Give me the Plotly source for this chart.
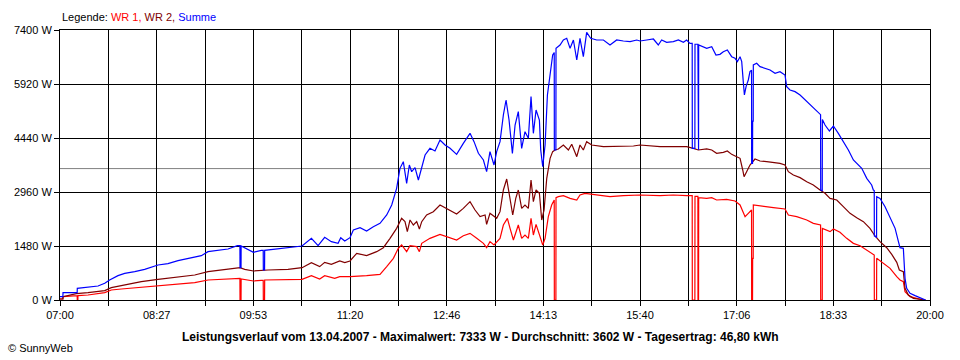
import plotly.graph_objects as go
import pandas as pd

# ---------------- data (minutes after 07:00, watts) ----------------
DAY_START = "2007-04-13 07:00"
DAY_MINUTES = 780  # 07:00 .. 20:00

x_tick_labels = ["07:00", "08:27", "09:53", "11:20", "12:46",
                 "14:13", "15:40", "17:06", "18:33", "20:00"]
y_tick_values = [0, 1480, 2960, 4440, 5920, 7400]
average_w = 3602

title_text = ("Leistungsverlauf vom 13.04.2007 - Maximalwert: 7333 W - "
              "Durchschnitt: 3602 W - Tagesertrag: 46,80 kWh")

wr1 = [(0, 27), (2.6, 27), (2.7, 91), (14.6, 119), (15.4, 119), (15.5, 0), (16.0, 0), (16.1, 119),
       (25.1, 137), (40.1, 201), (46.0, 274), (55.0, 301), (72.9, 347), (87.9, 393),
       (102.8, 429), (120.8, 475), (132.7, 548), (150.6, 566), (159.0, 594), (161.3, 594),
       (161.4, 0), (162.3, 0), (162.4, 576), (173.4, 521), (180.5, 539), (182.2, 539),
       (182.3, 0), (183.4, 0), (183.5, 548), (204.4, 548), (217.0, 566), (225.4, 667),
       (232.8, 576), (237.3, 667), (246.3, 594), (250.8, 640), (260.0, 640), (274.9, 667),
       (286.9, 703), (292.9, 914), (298.9, 1142), (303.3, 1416), (306.3, 1507), (310.8, 1325),
       (313.8, 1489), (319.8, 1462), (322.2, 1325), (324.3, 1553), (331.7, 1690), (340.7, 1800),
       (346.7, 1736), (355.6, 1644), (361.6, 1763), (367.6, 1827), (373.6, 1690), (379.6, 1553),
       (382.5, 1434), (385.5, 1599), (389.1, 1507), (394.5, 1690), (397.5, 2056), (401.1, 2238),
       (403.5, 1964), (406.5, 1644), (410.9, 2056), (413.9, 1690), (416.9, 1782), (419.9, 1690),
       (422.3, 2238), (424.4, 1782), (426.8, 2074), (429.8, 1782), (432.8, 1507), (434.9, 1690),
       (437.8, 2284), (440.8, 2604), (442.6, 2741), (443.1, 2741), (443.2, 0), (444.6, 0),
       (444.7, 2805), (446.8, 2832), (451.3, 2860), (457.3, 2786), (463.3, 2741), (466.2, 2878),
       (470.7, 2924), (481.2, 2878), (493.1, 2832), (505.1, 2860), (520.0, 2878), (537.9, 2860),
       (549.9, 2878), (561.8, 2860), (566.8, 2860), (566.9, 0), (569.2, 0), (569.3, 2840),
       (571.9, 2840), (572.0, 0), (572.5, 0), (572.6, 2805), (579.8, 2786), (584.3, 2805),
       (588.7, 2741), (597.7, 2759), (605.2, 2713), (609.7, 2604), (612.7, 2421), (614.2, 2284),
       (617.1, 2375), (619.2, 2467), (620.0, 2467), (620.1, 0), (620.9, 0), (621.0, 1142),
       (621.5, 1142), (621.6, 2604), (630.6, 2558), (639.6, 2531), (650.0, 2494), (653.0, 2330),
       (660.5, 2284), (669.5, 2193), (675.4, 2101), (681.4, 2056), (681.9, 2056), (682.0, 0),
       (683.4, 0), (683.5, 1964), (690.4, 1873), (693.4, 1946), (699.3, 1855), (705.3, 1690),
       (711.3, 1553), (717.3, 1489), (723.3, 1370), (729.2, 1233), (730.0, 1233), (730.1, 0),
       (732.1, 0), (732.2, 1142), (738.2, 1005), (744.2, 868), (750.2, 640), (753.1, 548),
       (756.1, 502), (757.6, 228), (762.1, 91), (768.0, 40), (774.1, 0), (776.0, 0)]

wr2 = [(0, 27), (2.6, 27), (2.7, 91), (14.6, 174), (25.1, 201), (40.1, 256), (46.0, 338),
       (55.0, 393), (72.9, 502), (87.9, 566), (102.8, 612), (120.8, 685), (132.7, 777),
       (150.6, 840), (161.4, 886), (165.6, 840), (173.4, 795), (186.5, 822), (204.4, 840),
       (217.0, 886), (225.4, 1023), (232.8, 914), (237.3, 1032), (243.3, 978), (250.8, 1069),
       (255.3, 1023), (260.0, 1069), (266.0, 1279), (274.9, 1215), (283.9, 1325), (289.9, 1434),
       (295.9, 1690), (301.8, 1964), (306.3, 2238), (309.3, 2147), (311.4, 1873), (313.8, 2193),
       (316.8, 2056), (319.8, 2147), (322.2, 1946), (324.3, 2147), (328.7, 2330), (334.7, 2421),
       (340.7, 2604), (346.7, 2512), (352.7, 2421), (355.6, 2357), (361.6, 2512), (367.6, 2695),
       (372.1, 2467), (376.6, 2284), (381.1, 2330), (382.5, 2074), (385.5, 2375), (389.1, 2284),
       (391.5, 2238), (394.5, 2421), (397.5, 3015), (400.5, 3316), (402.9, 2878), (405.9, 2330),
       (408.6, 2786), (410.9, 3015), (413.9, 2512), (416.9, 2604), (419.9, 2512), (422.3, 3289),
       (424.4, 2695), (426.8, 3015), (429.8, 2924), (431.9, 2193), (434.0, 2467), (436.4, 3335),
       (439.4, 3883), (441.7, 4066), (443.8, 4111), (446.8, 4139), (451.3, 4248), (455.8, 4111),
       (458.8, 4267), (463.3, 3928), (466.2, 4248), (469.2, 4111), (472.2, 4340), (476.7, 4248),
       (487.2, 4203), (499.1, 4203), (514.1, 4221), (520.0, 4248), (529.0, 4230), (537.9, 4203),
       (549.9, 4203), (561.8, 4203), (567.8, 4157), (572.3, 4111), (579.8, 4139), (584.3, 4111),
       (588.7, 4020), (594.7, 4047), (598.3, 4084), (602.2, 3992), (606.7, 3928), (609.7, 3883),
       (612.1, 3563), (613.3, 3380), (615.6, 3517), (618.6, 3700), (623.1, 3864), (627.6, 3810),
       (633.6, 3791), (639.6, 3764), (645.5, 3746), (650.0, 3700), (653.0, 3517), (657.5, 3426),
       (663.5, 3353), (669.5, 3243), (675.4, 3152), (681.4, 3015), (685.9, 2924), (690.4, 2786),
       (696.4, 2741), (702.3, 2558), (708.3, 2375), (714.3, 2257), (720.3, 2147), (726.2, 1964),
       (730.7, 1754), (735.2, 1599), (741.2, 1434), (745.7, 1252), (750.2, 1032), (752.5, 822),
       (756.1, 777), (757.6, 320), (760.6, 137), (765.1, 46), (774.1, 0), (776.0, 0)]

summe = [(0, 91), (2.6, 91), (2.7, 201), (15.4, 201), (15.5, 320), (25.1, 347), (34.1, 384),
         (40.1, 457), (44.5, 548), (52.0, 667), (58.0, 731), (67.0, 777), (75.9, 840),
         (87.9, 959), (96.8, 996), (105.8, 1078), (114.8, 1142), (126.7, 1215), (132.7, 1325),
         (144.7, 1361), (150.6, 1398), (159.0, 1489), (161.3, 1489), (161.4, 886), (162.3, 886),
         (162.4, 1480), (167.1, 1398), (173.4, 1306), (180.5, 1361), (182.2, 1361), (182.3, 822),
         (183.4, 822), (183.5, 1361), (204.4, 1434), (217.0, 1480), (225.4, 1690), (231.4, 1489),
         (237.3, 1718), (243.3, 1599), (249.3, 1553), (251.7, 1708), (255.3, 1617), (260.0, 1708),
         (263.0, 1919), (269.0, 1983), (274.9, 1891), (280.9, 2010), (286.9, 2101), (292.9, 2330),
         (297.4, 2604), (301.8, 3061), (304.8, 3609), (307.8, 3791), (310.8, 3198), (313.2, 3700),
         (315.3, 3517), (318.3, 3627), (321.3, 3289), (324.3, 3609), (327.3, 3974), (331.7, 4157),
         (336.2, 4084), (340.7, 4385), (345.2, 4248), (349.7, 4157), (355.6, 3992), (361.6, 4294),
         (367.6, 4568), (371.2, 4340), (375.1, 4020), (379.6, 3837), (382.5, 3517), (385.5, 4066),
         (389.1, 3700), (391.5, 4066), (394.5, 4340), (397.5, 5070), (399.9, 5482), (402.6, 4933),
         (405.6, 4020), (408.0, 4796), (410.9, 5162), (413.9, 4157), (416.9, 4614), (419.9, 4431),
         (422.3, 5573), (424.4, 4568), (426.8, 5208), (429.8, 4933), (431.0, 4111), (432.8, 3654),
         (434.9, 4248), (437.0, 5619), (439.4, 6258), (441.7, 6715), (443.1, 6780), (443.2, 4111),
         (444.6, 4111), (444.7, 6898), (448.3, 6989), (451.3, 7126), (454.3, 7172), (457.3, 6898),
         (460.3, 7126), (463.3, 6578), (466.2, 7172), (469.2, 6669), (472.2, 7333), (475.8, 7172),
         (481.2, 7126), (487.2, 7126), (493.1, 6989), (499.1, 7126), (505.1, 7099), (511.1, 7080),
         (517.1, 7126), (520.0, 7099), (526.0, 7126), (532.0, 7153), (536.4, 6989), (539.4, 7126),
         (543.9, 7062), (549.9, 7080), (554.4, 7126), (558.9, 7062), (561.8, 7126), (564.8, 7035),
         (566.8, 7035), (566.9, 4157), (569.2, 4157), (569.3, 7010), (571.9, 7010), (572.0, 4111),
         (572.5, 4111), (572.6, 6990), (576.8, 6943), (579.8, 6898), (584.3, 6943), (588.1, 6715),
         (591.7, 6733), (594.7, 6806), (598.3, 6852), (602.2, 6669), (605.2, 6624), (607.3, 6532),
         (609.7, 6669), (611.2, 6532), (612.7, 5938), (613.6, 5619), (615.1, 5847), (617.1, 6030),
         (618.6, 6258), (620.0, 6300), (620.1, 3746), (620.9, 3746), (621.0, 4900), (621.5, 4900),
         (621.6, 6441), (624.6, 6487), (627.6, 6395), (636.6, 6304), (641.1, 6212), (645.5, 6258),
         (650.0, 6167), (651.5, 5847), (654.5, 5756), (659.0, 5710), (663.5, 5619), (668.0, 5482),
         (672.4, 5345), (676.9, 5208), (681.4, 5089), (681.9, 5080), (682.0, 3015), (683.4, 3000),
         (683.5, 4950), (685.9, 4796), (689.8, 4632), (693.4, 4769), (697.8, 4568), (702.3, 4340),
         (706.8, 4111), (711.3, 3837), (718.8, 3609), (723.3, 3334), (727.7, 3152), (729.2, 3015),
         (730.0, 3000), (730.1, 1754), (732.1, 1720), (732.2, 2832), (735.2, 2786), (739.7, 2558),
         (744.2, 2238), (748.7, 1964), (751.7, 1599), (753.1, 1434), (756.1, 1416), (757.6, 594),
         (759.1, 320), (762.1, 183), (766.6, 119), (774.1, 27), (776.0, 0)]

# ---------------- figure ----------------
start = pd.Timestamp(DAY_START)


def to_xy(pairs):
    mins, watts = zip(*pairs)
    return [start + pd.Timedelta(minutes=m) for m in mins], list(watts)


FONT = "Liberation Sans, Arial, sans-serif"
fig = go.Figure()
for name, pairs, color in [("WR 1", wr1, "#FF0000"), ("WR 2", wr2, "#800000"),
                           ("Summe", summe, "#0000FF")]:
    xs, ys = to_xy(pairs)
    fig.add_trace(go.Scatter(x=xs, y=ys, name=name, mode="lines",
                             line=dict(color=color, width=1.2, shape="linear")))

n_div = 2 * (len(x_tick_labels) - 1)
step = DAY_MINUTES / n_div
tickvals = [start + pd.Timedelta(minutes=k * step) for k in range(n_div + 1)]
ticktext = [x_tick_labels[k // 2] if k % 2 == 0 else "" for k in range(n_div + 1)]

fig.update_xaxes(type="date", range=[tickvals[0], tickvals[-1]], tickvals=tickvals,
                 ticktext=ticktext, showgrid=True, gridcolor="black", gridwidth=1,
                 ticks="outside", ticklen=5, tickcolor="black", showline=True,
                 linecolor="black", linewidth=1, mirror=True, zeroline=False,
                 tickfont=dict(family=FONT, size=11, color="black"))
fig.update_yaxes(range=[0, 7400], tickvals=y_tick_values,
                 ticktext=[f"{v} W" for v in y_tick_values], showgrid=True,
                 gridcolor="black", gridwidth=1, ticks="outside", ticklen=5,
                 tickcolor="black", showline=True, linecolor="black", linewidth=1,
                 mirror=True, zeroline=False,
                 tickfont=dict(family=FONT, size=11, color="black"))

fig.add_shape(type="line", xref="paper", x0=0, x1=1, yref="y", y0=average_w, y1=average_w,
              line=dict(color="#808080", width=1), layer="below")

fig.add_annotation(xref="paper", yref="paper", x=0, y=1.048, xanchor="left", yanchor="middle",
                   showarrow=False, font=dict(family=FONT, size=11, color="black"),
                   text=("Legende: <span style='color:#FF0000'>WR 1, </span>"
                         "<span style='color:#800000'>WR 2, </span>"
                         "<span style='color:#0000FF'>Summe</span>"))
fig.add_annotation(xref="paper", yref="paper", x=0.4828, y=-0.137, xanchor="center",
                   yanchor="middle", showarrow=False,
                   font=dict(family=FONT, size=12, color="black"),
                   text=f"<b>{title_text}</b>")
fig.add_annotation(xref="paper", yref="paper", x=-0.062, y=-0.178, xanchor="left",
                   yanchor="middle", showarrow=False,
                   font=dict(family=FONT, size=11, color="black"),
                   text="© SunnyWeb")

fig.update_layout(width=960, height=360, margin=dict(l=60, r=30, t=30, b=60),
                  plot_bgcolor="white", paper_bgcolor="white", showlegend=False,
                  font=dict(family=FONT, size=11, color="black"))

fig.write_html("out.html", config={"displayModeBar": False},
               post_script="document.body.style.margin='0';"
                           "document.body.style.overflow='hidden';")
